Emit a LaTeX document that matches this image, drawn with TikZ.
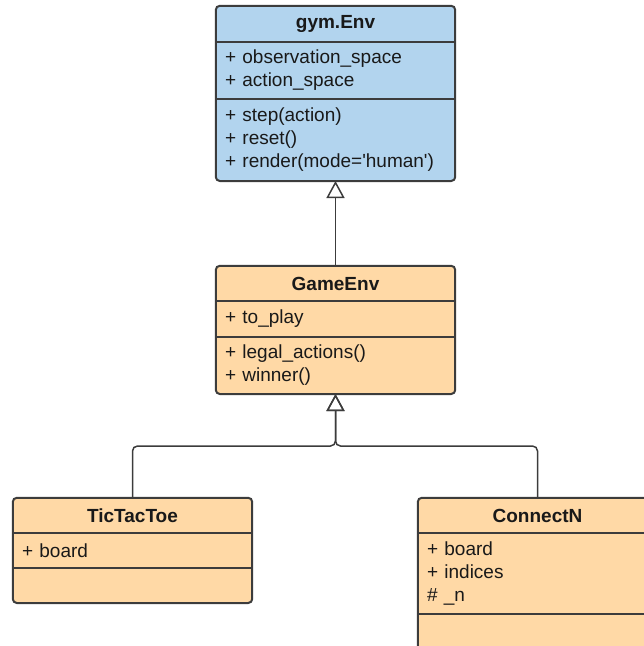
\documentclass[tikz,border=0pt]{standalone}
\usepackage{fontspec}
\setmainfont{Liberation Sans}
\usetikzlibrary{positioning,arrows.meta,backgrounds}
\definecolor{envblue}{RGB}{178,212,238}
\definecolor{gameorange}{RGB}{255,217,166}
\definecolor{umlline}{RGB}{60,60,60}
\tikzset{
part/.style={inner xsep=9pt,inner ysep=0pt,text width=221pt,align=left,text=black!90,font=\fontsize{19}{23}\selectfont},
head/.style={part,align=center,font=\fontsize{19}{23}\selectfont\bfseries},
frame/.style={draw=umlline,line width=2pt,rounded corners=4pt},
sep/.style={draw=umlline,line width=2pt},
inherit/.style={draw=umlline,line width=1.5pt,rounded corners=5pt,-{Triangle[open,width=18pt,length=17pt]}}
}
\begin{document}
\begin{tikzpicture}[x=1pt,y=-1pt]
\useasboundingbox(0,0)rectangle(644,646);
\clip(0,0)rectangle(644,646);
\node[head,minimum height=36pt](env)at(335.5,24){gym.Env};
\node[part,minimum height=56pt,below=0pt of env](envattr){+ observation\_space\\+ action\_space};
\node[part,minimum height=82pt,below=0pt of envattr](envmeth){+ step(action)\\+ reset()\\+ render(mode=\textquotesingle human\textquotesingle)};
\node[head,minimum height=35pt](game)at(335.5,283.5){GameEnv};
\node[part,minimum height=35pt,below=0pt of game](gameattr){+ to\_play};
\node[part,minimum height=57pt,below=0pt of gameattr](gamemeth){+ legal\_actions()\\+ winner()};
\node[head,minimum height=35pt](tic)at(132.5,515.5){TicTacToe};
\node[part,minimum height=34pt,below=0pt of tic](ticattr){+ board};
\node[part,minimum height=35pt,below=0pt of ticattr](ticmeth){};
\node[head,minimum height=35pt](con)at(537.5,515.5){ConnectN};
\node[part,minimum height=80pt,below=0pt of con](conattr){+ board\\+ indices\\\# \_n};
\node[part,minimum height=40pt,below=0pt of conattr](conmeth){};
\begin{scope}[on background layer]
\draw[frame,fill=envblue](env.north west)rectangle(envmeth.south east);
\draw[frame,fill=gameorange](game.north west)rectangle(gamemeth.south east);
\draw[frame,fill=gameorange](tic.north west)rectangle(ticmeth.south east);
\draw[frame,fill=gameorange](con.north west)rectangle(conmeth.south east);
\end{scope}
\draw[sep](envattr.north west)--(envattr.north east)(envmeth.north west)--(envmeth.north east);
\draw[sep](gameattr.north west)--(gameattr.north east)(gamemeth.north west)--(gamemeth.north east);
\draw[sep](ticattr.north west)--(ticattr.north east)(ticmeth.north west)--(ticmeth.north east);
\draw[sep](conattr.north west)--(conattr.north east)(conmeth.north west)--(conmeth.north east);
\coordinate(split)at(335.5,446);
\draw[inherit](game.north)--(envmeth.south);
\draw[inherit](tic.north)|-(split)--(gamemeth.south);
\draw[inherit](con.north)|-(split)--(gamemeth.south);
\end{tikzpicture}
\end{document}
